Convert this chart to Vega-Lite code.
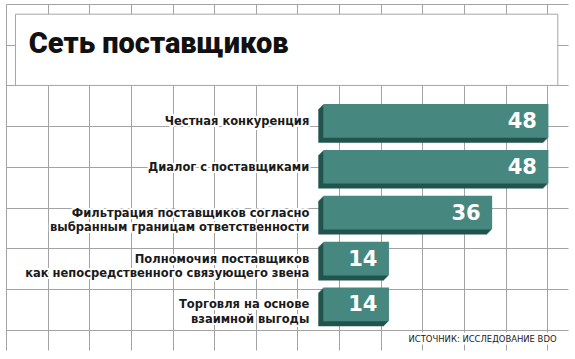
{
  "$schema": "https://vega.github.io/schema/vega-lite/v6.json",
  "width": 562,
  "height": 346,
  "padding": {"left": 6, "top": 4, "right": 7, "bottom": 9},
  "background": "white",
  "config": {"view": {"stroke": null}},
  "datasets": {
    "bars": [
      {"label": "Честная конкуренция", "value": 48},
      {"label": "Диалог с поставщиками", "value": 48},
      {"label": "Фильтрация поставщиков согласно\nвыбранным границам ответственности", "value": 36},
      {"label": "Полномочия поставщиков\nкак непосредственного связующего звена", "value": 14},
      {"label": "Торговля на основе\nвзаимной выгоды", "value": 14}
    ],
    "notes": [
      {"title": "Сеть поставщиков", "source": "ИСТОЧНИК: ИССЛЕДОВАНИЕ BDO"}
    ]
  },
  "layer": [
    {
      "data": {"name": "notes"},
      "layer": [
        {
          "mark": {"type": "rect", "fill": "white", "stroke": "#a6a6a6", "strokeWidth": 1},
          "encoding": {
            "x": {"datum": 0.456, "type": "quantitative", "scale": {"domain": [0, 27], "nice": false, "zero": false},
              "axis": {"values": [0,1,2,3,4,5,6,7,8,9,10,11,12,13,14,15,16,17,18,19,20,21,22,23,24,25,26,27], "grid": true, "gridColor": "#a3a3a3", "gridOpacity": 1, "gridWidth": 1, "labels": false, "ticks": false, "domain": false, "title": null}},
            "x2": {"datum": 26.51},
            "y": {"datum": 0.5, "type": "quantitative", "scale": {"domain": [0, 17], "reverse": true, "nice": false, "zero": false},
              "axis": {"values": [0,1,2,3,4,5,6,7,8,9,10,11,12,13,14,15,16,17], "grid": true, "gridColor": "#a3a3a3", "gridOpacity": 1, "gridWidth": 1, "labels": false, "ticks": false, "domain": false, "title": null}},
            "y2": {"datum": 4}
          }
        },
        {
          "mark": {"type": "text", "font": "Roboto", "fontWeight": 900, "fontSize": 29, "align": "left", "baseline": "alphabetic", "color": "#111111"},
          "encoding": {
            "x": {"datum": 1.095, "type": "quantitative", "scale": {"domain": [0, 27], "nice": false, "zero": false}},
            "y": {"datum": 2.4, "type": "quantitative", "scale": {"domain": [0, 17], "reverse": true, "nice": false, "zero": false}},
            "text": {"field": "title"}
          }
        },
        {
          "mark": {"type": "text", "font": "DejaVu Sans Condensed", "fontSize": 9.4, "align": "right", "baseline": "middle", "fill": "white", "stroke": "white", "strokeWidth": 5, "strokeJoin": "round"},
          "encoding": {
            "x": {"datum": 26.45, "type": "quantitative", "scale": {"domain": [0, 27], "nice": false, "zero": false}},
            "y": {"datum": 16.45, "type": "quantitative", "scale": {"domain": [0, 17], "reverse": true, "nice": false, "zero": false}},
            "text": {"field": "source"}
          }
        },
        {
          "mark": {"type": "text", "font": "DejaVu Sans Condensed", "fontSize": 9.4, "align": "right", "baseline": "middle", "color": "#1a1a1a"},
          "encoding": {
            "x": {"datum": 26.45, "type": "quantitative", "scale": {"domain": [0, 27], "nice": false, "zero": false}},
            "y": {"datum": 16.45, "type": "quantitative", "scale": {"domain": [0, 17], "reverse": true, "nice": false, "zero": false}},
            "text": {"field": "source"}
          }
        }
      ]
    },
    {
      "data": {"name": "bars"},
      "encoding": {
        "y": {"field": "label", "type": "nominal", "sort": null, "scale": {"range": [100, 317.3], "paddingInner": 0.266, "paddingOuter": 0}, "axis": null}
      },
      "layer": [
        {"mark": {"type": "bar", "color": "#22544e", "xOffset": -5, "yOffset": 5}, "encoding": {"x": {"field": "value", "type": "quantitative", "scale": {"domain": [0, 48], "range": [317.3, 542.4]}, "axis": null}}},
        {"mark": {"type": "bar", "color": "#22544e", "xOffset": -4, "yOffset": 4}, "encoding": {"x": {"field": "value", "type": "quantitative", "scale": {"domain": [0, 48], "range": [317.3, 542.4]}, "axis": null}}},
        {"mark": {"type": "bar", "color": "#22544e", "xOffset": -3, "yOffset": 3}, "encoding": {"x": {"field": "value", "type": "quantitative", "scale": {"domain": [0, 48], "range": [317.3, 542.4]}, "axis": null}}},
        {"mark": {"type": "bar", "color": "#22544e", "xOffset": -2, "yOffset": 2}, "encoding": {"x": {"field": "value", "type": "quantitative", "scale": {"domain": [0, 48], "range": [317.3, 542.4]}, "axis": null}}},
        {"mark": {"type": "bar", "color": "#22544e", "xOffset": -1, "yOffset": 1}, "encoding": {"x": {"field": "value", "type": "quantitative", "scale": {"domain": [0, 48], "range": [317.3, 542.4]}, "axis": null}}},
        {"mark": {"type": "bar", "color": "#468880"}, "encoding": {"x": {"field": "value", "type": "quantitative", "scale": {"domain": [0, 48], "range": [317.3, 542.4]}, "axis": null}}},
        {
          "mark": {"type": "text", "align": "right", "baseline": "middle", "dx": -14, "dy": 1, "font": "DejaVu Sans", "fontWeight": "bold", "fontSize": 11.5, "lineBreak": "\n", "lineHeight": 14.5, "fill": "white", "stroke": "white", "strokeWidth": 4, "strokeJoin": "round"},
          "encoding": {
            "x": {"datum": 0, "type": "quantitative", "scale": {"domain": [0, 48], "range": [317.3, 542.4]}, "axis": null},
            "text": {"field": "label"}
          }
        },
        {
          "mark": {"type": "text", "align": "right", "baseline": "middle", "dx": -14, "dy": 1, "font": "DejaVu Sans", "fontWeight": "bold", "fontSize": 11.5, "lineBreak": "\n", "lineHeight": 14.5, "color": "#1a1a1a"},
          "encoding": {
            "x": {"datum": 0, "type": "quantitative", "scale": {"domain": [0, 48], "range": [317.3, 542.4]}, "axis": null},
            "text": {"field": "label"}
          }
        },
        {
          "mark": {"type": "text", "align": "right", "baseline": "middle", "dx": -11.5, "dy": 1, "font": "DejaVu Sans", "fontWeight": "bold", "fontSize": 21, "color": "white"},
          "encoding": {
            "x": {"field": "value", "type": "quantitative", "scale": {"domain": [0, 48], "range": [317.3, 542.4]}, "axis": null},
            "text": {"field": "value"}
          }
        }
      ]
    }
  ],
  "resolve": {"scale": {"x": "independent", "y": "independent"}}
}
